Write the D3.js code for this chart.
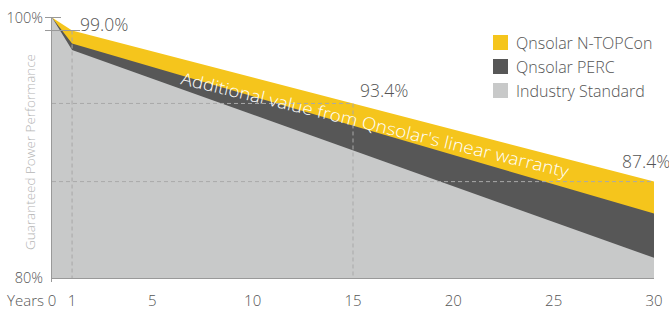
<!DOCTYPE html>
<html lang="en">
<head>
  <meta charset="UTF-8">
  <title>Guaranteed Power Performance</title>
  <script src="https://d3js.org/d3.v7.min.js"></script>
  <style>
    body { margin: 0; background: #fff; }
    svg text { font-family: "Open Sans", Lato, sans-serif; font-weight: 300; }
    .dash { stroke: #a9a9a9; stroke-dasharray: 4,3; stroke-width: 1; fill: none; }
    .axis-line { stroke: #999; stroke-width: 1; }
  </style>
</head>
<body>
  <div id="chart"></div>

  <script>
    // data
    const years = [0, 1, 30];
    const ntopcon = [100, 99.0, 87.4];
    const perc = [100, 98.0, 84.95];
    const industry = [100, 97.5, 81.55];
    const xTicks = [0, 1, 5, 10, 15, 20, 25, 30];
    const yTicks = [100, 80];
    const seriesNames = ["Qnsolar N-TOPCon", "Qnsolar PERC", "Industry Standard"];
    const colors = ["#f5c51c", "#575757", "#c8c9c9"];
    const callouts = [
      { year: 1, value: 99.0, label: "99.0%" },
      { year: 15, value: 93.4, label: "93.4%" },
      { year: 30, value: 87.4, label: "87.4%" }
    ];

    const width = 669, height = 312;
    const x = d3.scaleLinear().domain([0, 30]).range([52, 654]);
    const y = d3.scaleLinear().domain([80, 100]).range([278, 17.5]);

    const svg = d3.select("#chart").append("svg")
      .attr("width", width)
      .attr("height", height);

    const series = [ntopcon, perc, industry];
    const area = d3.area()
      .x(d => x(d.year))
      .y0(y(80))
      .y1(d => y(d.value));

    series.forEach((vals, i) => {
      const pts = years.map((yr, j) => ({ year: yr, value: vals[j] }));
      svg.append("path")
        .datum(pts)
        .attr("d", area)
        .attr("fill", colors[i]);
    });

    // dashed guide lines
    svg.append("line").attr("class", "dash")
      .attr("x1", x(1)).attr("x2", x(1)).attr("y1", y(99.0)).attr("y2", y(80));
    svg.append("line").attr("class", "dash")
      .attr("x1", x(15)).attr("x2", x(15)).attr("y1", y(93.4)).attr("y2", y(80));
    svg.append("line").attr("class", "dash")
      .attr("x1", x(0)).attr("x2", x(15)).attr("y1", y(93.4)).attr("y2", y(93.4));
    svg.append("line").attr("class", "dash")
      .attr("x1", x(0)).attr("x2", x(30)).attr("y1", y(87.4)).attr("y2", y(87.4));

    // axes
    svg.append("line").attr("class", "axis-line")
      .attr("x1", 51.5).attr("x2", 51.5).attr("y1", y(100)).attr("y2", y(80) + 4);
    svg.append("line").attr("class", "axis-line")
      .attr("x1", 51.5).attr("x2", x(30)).attr("y1", y(80) + 0.5).attr("y2", y(80) + 0.5);
    svg.append("line").attr("class", "axis-line")
      .attr("x1", 45).attr("x2", 61).attr("y1", y(100)).attr("y2", y(100));
    svg.append("line").attr("class", "axis-line")
      .attr("x1", 45).attr("x2", 80).attr("y1", y(99.0)).attr("y2", y(99.0));

    svg.selectAll(".ytick")
      .data(yTicks)
      .enter().append("text")
      .attr("x", 43)
      .attr("y", d => y(d) + 5)
      .attr("text-anchor", "end")
      .attr("font-size", 14.5)
      .attr("fill", "#555")
      .text(d => d + "%");

    svg.selectAll(".xtick")
      .data(xTicks)
      .enter().append("text")
      .attr("x", d => x(d))
      .attr("y", 306)
      .attr("text-anchor", "middle")
      .attr("font-size", 15)
      .attr("fill", "#555")
      .text(d => d);

    svg.append("text")
      .attr("x", 44).attr("y", 306)
      .attr("text-anchor", "end")
      .attr("font-size", 15)
      .attr("fill", "#555")
      .text("Years");

    svg.append("text")
      .attr("transform", `translate(35,152) rotate(-90)`)
      .attr("text-anchor", "middle")
      .attr("font-size", 13)
      .attr("fill", "#b5b5b5")
      .attr("textLength", 196)
      .attr("lengthAdjust", "spacingAndGlyphs")
      .text("Guaranteed Power Performance");

    // value callouts
    const calloutPos = [
      { dx: 8, dy: 0 },
      { dx: 7, dy: -6 },
      { dx: -32, dy: -14 }
    ];
    callouts.forEach((c, i) => {
      svg.append("text")
        .attr("x", x(c.year) + calloutPos[i].dx)
        .attr("y", y(c.value) + calloutPos[i].dy)
        .attr("font-size", 17.5)
        .attr("fill", "#555")
        .text(c.label);
    });

    // slanted note across the bands
    svg.append("text")
      .attr("transform", "translate(180,84) rotate(13.6)")
      .attr("font-size", 17)
      .attr("fill", "#fff")
      .attr("textLength", 398)
      .attr("lengthAdjust", "spacingAndGlyphs")
      .text("Additional value from Qnsolar's linear warranty");

    // legend
    const legend = svg.append("g").attr("transform", "translate(493,35)");
    seriesNames.forEach((name, i) => {
      const row = legend.append("g").attr("transform", `translate(0,${i * 24})`);
      row.append("rect")
        .attr("width", 15).attr("height", 15)
        .attr("fill", colors[i]);
      row.append("text")
        .attr("x", 23).attr("y", 14)
        .attr("font-size", 16)
        .attr("fill", "#555")
        .text(name);
    });
  </script>
</body>
</html>
